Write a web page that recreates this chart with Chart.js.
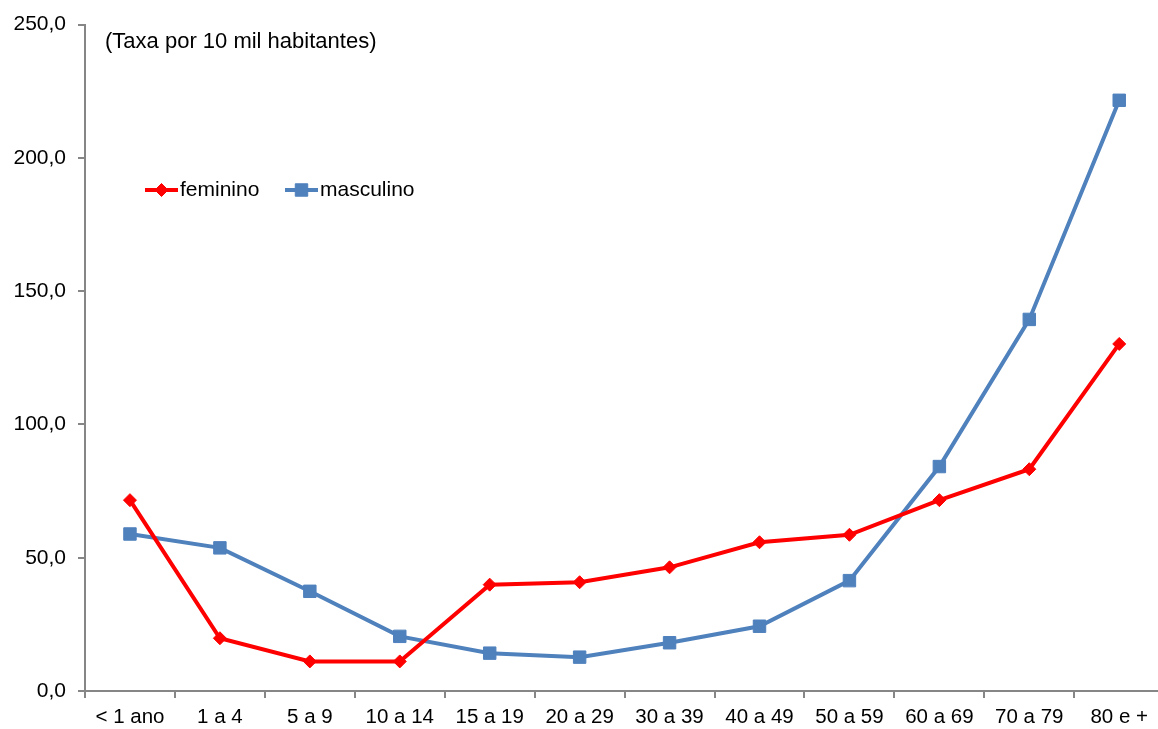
<!DOCTYPE html>
<html>
<head>
<meta charset="utf-8">
<script src="https://cdn.jsdelivr.net/npm/chart.js@4"></script>
<style>
html,body{margin:0;padding:0;background:#fff;overflow:hidden;}
#wrap{position:absolute;left:0;top:0;width:1174px;height:729px;}
</style>
</head>
<body>
<div id="wrap"><canvas id="c" width="1174" height="729"></canvas></div>
<script>
const categories = ['< 1 ano','1 a 4','5 a 9','10 a 14','15 a 19','20 a 29','30 a 39','40 a 49','50 a 59','60 a 69','70 a 79','80 e +'];
const feminino = [71.6, 19.8, 11.1, 11.1, 39.9, 40.8, 46.4, 55.8, 58.6, 71.6, 83.2, 130.2];
const masculino = [58.9, 53.7, 37.4, 20.5, 14.2, 12.7, 18.1, 24.3, 41.4, 84.2, 139.4, 221.6];
const subtitle = '(Taxa por 10 mil habitantes)';
const seriesNames = ['feminino', 'masculino'];

const FONT = '"Liberation Sans", Arial, sans-serif';
const RED = '#FF0000';
const BLUE = '#4F81BD';
const AXIS = '#868686';

const overlay = {
  id: 'overlay',
  afterDraw(chart) {
    const ctx = chart.ctx;
    ctx.save();
    ctx.fillStyle = '#000';
    ctx.font = '22px ' + FONT;
    ctx.textBaseline = 'middle';
    ctx.textAlign = 'left';
    ctx.fillText(subtitle, 105, 42);
    // legend
    const items = [
      {x: 145, ds: chart.data.datasets[0]},
      {x: 285, ds: chart.data.datasets[1]}
    ];
    const y = 190;
    items.forEach(it => {
      const ds = it.ds;
      ctx.strokeStyle = ds.borderColor;
      ctx.fillStyle = ds.borderColor;
      ctx.lineWidth = 4;
      ctx.beginPath();
      ctx.moveTo(it.x, y);
      ctx.lineTo(it.x + 33, y);
      ctx.stroke();
      ctx.lineWidth = ds.pointBorderWidth;
      Chart.helpers.drawPoint(ctx, {
        pointStyle: ds.pointStyle,
        radius: ds.pointRadius,
        borderWidth: ds.pointBorderWidth,
        rotation: 0
      }, it.x + 16.5, y);
      ctx.fillStyle = '#000';
      ctx.font = '21px ' + FONT;
      ctx.fillText(ds.label, it.x + 35, y);
    });
    ctx.restore();
  }
};

const ctxEl = document.getElementById('c');
Chart.defaults.font.family = FONT;
new Chart(ctxEl, {
  type: 'line',
  data: {
    labels: categories,
    datasets: [
      {
        label: seriesNames[0],
        data: feminino,
        borderColor: RED,
        backgroundColor: RED,
        pointBackgroundColor: RED,
        pointBorderColor: RED,
        borderWidth: 4,
        pointStyle: 'rectRot',
        pointRadius: 6.5,
        pointBorderWidth: 1,
        tension: 0
      },
      {
        label: seriesNames[1],
        data: masculino,
        borderColor: BLUE,
        backgroundColor: BLUE,
        pointBackgroundColor: BLUE,
        pointBorderColor: BLUE,
        borderWidth: 4,
        pointStyle: 'rect',
        pointRadius: 8.8,
        pointBorderWidth: 1,
        tension: 0
      }
    ]
  },
  options: {
    responsive: false,
    animation: false,
    devicePixelRatio: 1,
    layout: {padding: {top: 23, right: 1, left: 0, bottom: 0}},
    plugins: {legend: {display: false}, tooltip: {enabled: false}},
    scales: {
      x: {
        offset: true,
        grid: {offset: true, drawOnChartArea: false, drawTicks: true, tickLength: 7, color: AXIS, lineWidth: 2},
        border: {color: AXIS, width: 2},
        ticks: {color: '#000', font: {size: 20.5, family: FONT}, padding: 7, maxRotation: 0, autoSkip: false},
        afterFit(scale) { scale.height = 38; }
      },
      y: {
        min: 0, max: 250,
        grid: {drawOnChartArea: false, drawTicks: true, tickLength: 7, color: AXIS, lineWidth: 2},
        border: {color: AXIS, width: 2},
        ticks: {
          stepSize: 50,
          color: '#000',
          font: {size: 21, family: FONT},
          padding: 12,
          callback: v => v.toFixed(1).replace('.', ',')
        },
        afterFit(scale) { scale.width = 85; }
      }
    }
  },
  plugins: [overlay]
});
</script>
</body>
</html>
